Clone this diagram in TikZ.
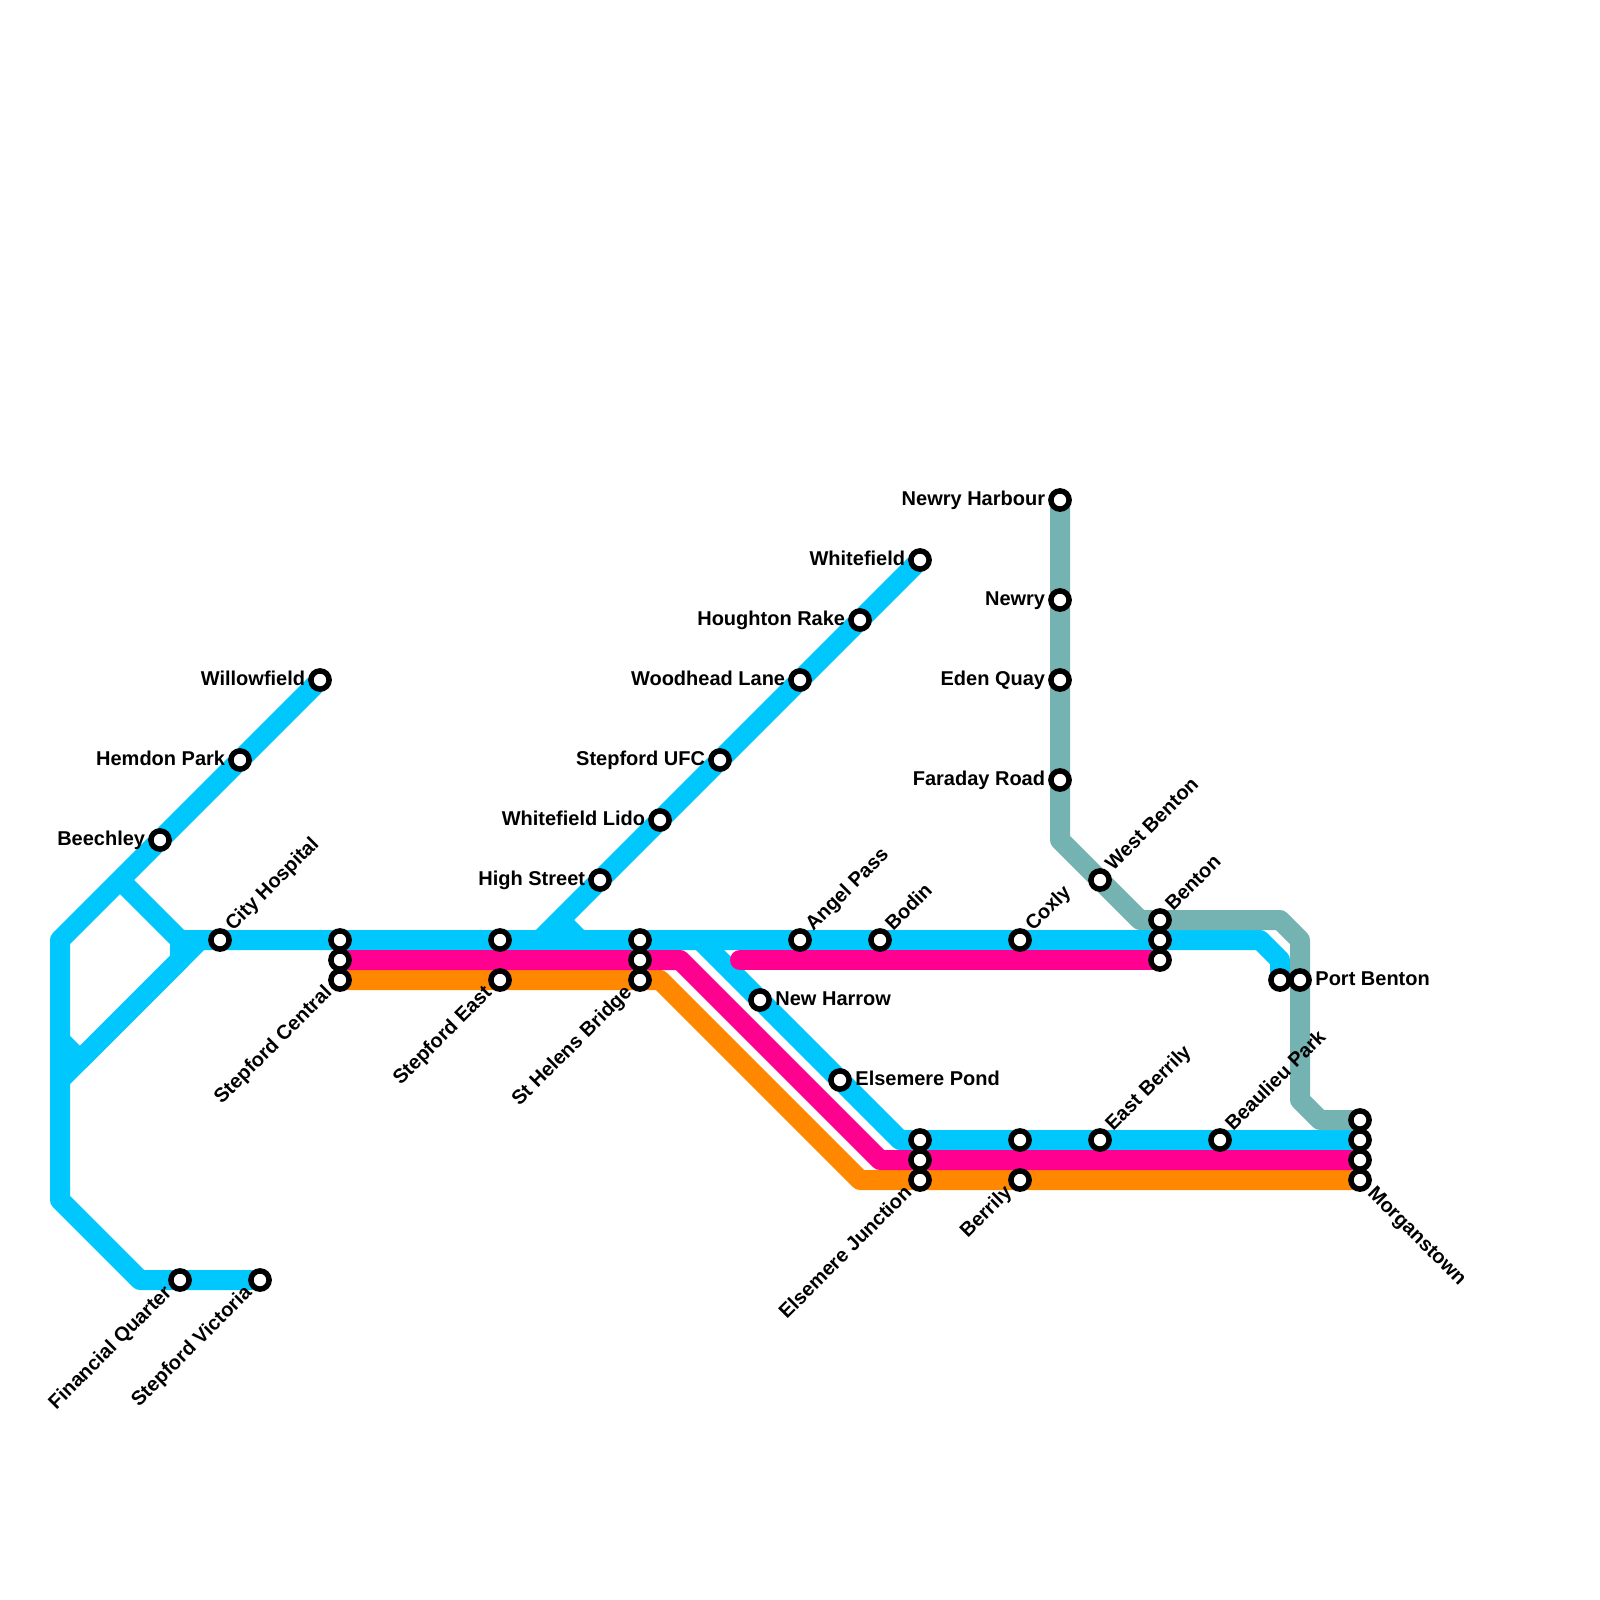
\documentclass[tikz,border=0pt]{standalone}
\usepackage{fontspec}
\setmainfont{Liberation Sans}
\pgfdeclarelayer{lines}
\pgfsetlayers{lines,main}
\definecolor{lblue}{HTML}{00C8FF}
\definecolor{lpink}{HTML}{FF0090}
\definecolor{lorange}{HTML}{FF8800}
\definecolor{lteal}{HTML}{75B2B2}
\tikzset{
  stn/.style={circle,draw=black,fill=white,line width=2.75pt,minimum size=9.1pt,inner sep=0pt},
  txt/.style={inner sep=0pt,font=\fontsize{10}{12}\selectfont\bfseries,text=black},
  lblE/.style={txt,shift={(15,5.5)},anchor=base west},
  lblW/.style={txt,shift={(-14.5,5.5)},anchor=base east},
  lblNE/.style={txt,shift={(13,-8)},rotate=45,anchor=base west},
  lblSW/.style={txt,shift={(-7,13.5)},rotate=45,anchor=base east},
  lblSE/.style={txt,shift={(6.5,14)},rotate=-45,anchor=base west},
  route/.style={line width=10pt,line join=round,line cap=butt},
  bluel/.style={route,draw=lblue},
  pinkl/.style={route,draw=lpink},
  orangel/.style={route,draw=lorange},
  teall/.style={route,draw=lteal},
}
\newcommand{\stat}[4]{\node[stn] (#1) at (#2,#3) {};}
\begin{document}
\begin{tikzpicture}[x=0.5pt,y=-0.5pt]
\useasboundingbox (0,0) rectangle (1600,1600);
% stations
\stat{wf}{320}{680}{}
\stat{hp}{240}{760}{}
\stat{bc}{160}{840}{}
\stat{ch}{220}{940}{}
\stat{fq}{180}{1280}{}
\stat{sv}{260}{1280}{}
\stat{sca}{340}{940}{}
\stat{scb}{340}{960}{}
\stat{scc}{340}{980}{}
\stat{sea}{500}{940}{}
\stat{seb}{500}{980}{}
\stat{hba}{640}{940}{}
\stat{hbb}{640}{960}{}
\stat{hbc}{640}{980}{}
\stat{hs}{600}{880}{}
\stat{wl}{660}{820}{}
\stat{uf}{720}{760}{}
\stat{wh}{800}{680}{}
\stat{hr}{860}{620}{}
\stat{wt}{920}{560}{}
\stat{ap}{800}{940}{}
\stat{bo}{880}{940}{}
\stat{co}{1020}{940}{}
\stat{nh}{760}{1000}{}
\stat{ep}{840}{1080}{}
\stat{eja}{920}{1140}{}
\stat{ejb}{920}{1160}{}
\stat{ejc}{920}{1180}{}
\stat{bea}{1020}{1140}{}
\stat{beb}{1020}{1180}{}
\stat{eb}{1100}{1140}{}
\stat{bp}{1220}{1140}{}
\stat{moa}{1360}{1120}{}
\stat{mob}{1360}{1140}{}
\stat{moc}{1360}{1160}{}
\stat{mod}{1360}{1180}{}
\stat{nwh}{1060}{500}{}
\stat{nw}{1060}{600}{}
\stat{eq}{1060}{680}{}
\stat{fr}{1060}{780}{}
\stat{wb}{1100}{880}{}
\stat{bna}{1160}{920}{}
\stat{bnb}{1160}{940}{}
\stat{bnc}{1160}{960}{}
\stat{pba}{1280}{980}{}
\stat{pbb}{1300}{980}{}
% labels
\node[lblW] (twf) at (wf.center) {Willowfield};
\node[lblW] (thp) at (hp.center) {Hemdon Park};
\node[lblW] (tbc) at (bc.center) {Beechley};
\node[lblNE] (tch) at (ch.center) {City Hospital};
\node[lblSW] (tfq) at (fq.center) {Financial Quarter};
\node[lblSW] (tsv) at (sv.center) {Stepford Victoria};
\node[lblSW] (tsc) at (scc.center) {Stepford Central};
\node[lblSW] (tse) at (seb.center) {Stepford East};
\node[lblSW] (thb) at (hbc.center) {St Helens Bridge};
\node[lblW] (ths) at (hs.center) {High Street};
\node[lblW] (twl) at (wl.center) {Whitefield Lido};
\node[lblW] (tuf) at (uf.center) {Stepford UFC};
\node[lblW] (twh) at (wh.center) {Woodhead Lane};
\node[lblW] (thr) at (hr.center) {Houghton Rake};
\node[lblW] (twt) at (wt.center) {Whitefield};
\node[lblNE] (tap) at (ap.center) {Angel Pass};
\node[lblNE] (tbo) at (bo.center) {Bodin};
\node[lblNE] (tco) at (co.center) {Coxly};
\node[lblE] (tnh) at (nh.center) {New Harrow};
\node[lblE] (tep) at (ep.center) {Elsemere Pond};
\node[lblSW] (tej) at (ejc.center) {Elsemere Junction};
\node[lblSW] (tbe) at (beb.center) {Berrily};
\node[lblNE] (teb) at (eb.center) {East Berrily};
\node[lblNE] (tbp) at (bp.center) {Beaulieu Park};
\node[lblSE] (tmo) at (mod.center) {Morganstown};
\node[lblW] (tnwh) at (nwh.center) {Newry Harbour};
\node[lblW] (tnw) at (nw.center) {Newry};
\node[lblW] (teq) at (eq.center) {Eden Quay};
\node[lblW] (tfr) at (fr.center) {Faraday Road};
\node[lblNE] (twb) at (wb.center) {West Benton};
\node[lblNE] (tbn) at (bna.center) {Benton};
\node[lblE] (tpb) at (pbb.center) {Port Benton};
% bends
\coordinate (b1) at (60,940);
\coordinate (b2) at (60,1200);
\coordinate (b3) at (140,1280);
\coordinate (b4) at (120,880);
\coordinate (b5) at (180,940);
\coordinate (b6) at (180,960);
\coordinate (b7) at (80,1060);
\coordinate (b8) at (60,1040);
\coordinate (b9) at (60,1080);
\coordinate (b10) at (200,940);
\coordinate (b11) at (540,940);
\coordinate (b12) at (560,920);
\coordinate (b13) at (580,940);
\coordinate (b14) at (700,940);
\coordinate (b15) at (900,1140);
\coordinate (b16) at (1260,940);
\coordinate (b17) at (1280,960);
\coordinate (p1) at (680,960);
\coordinate (p2) at (880,1160);
\coordinate (p3) at (740,960);
\coordinate (o1) at (660,980);
\coordinate (o2) at (860,1180);
\coordinate (t1) at (1060,840);
\coordinate (t2) at (1140,920);
\coordinate (t3) at (1280,920);
\coordinate (t4) at (1300,940);
\coordinate (t5) at (1300,1100);
\coordinate (t6) at (1320,1120);
\begin{pgfonlayer}{lines}
\draw[bluel] (wf.center) -- (b4) -- (b1) -- (b2) -- (b3) -- (sv.center);
\draw[bluel] (b4) -- (b5) -- (b6) -- (b7) -- (b8);
\draw[bluel] (b9) -- (b10);
\draw[bluel] (b5) -- (b16) -- (b17) -- (pba.center);
\draw[bluel] (b11) -- (wt.center);
\draw[bluel] (b12) -- (b13);
\draw[bluel] (b14) -- (b15) -- (mob.center);
\draw[orangel] (scc.center) -- (o1) -- (o2) -- (mod.center);
\draw[pinkl] (scb.center) -- (p1) -- (p2) -- (moc.center);
\draw[pinkl,line cap=round] (p3) -- (bnc.center);
\draw[teall] (nwh.center) -- (t1) -- (t2) -- (t3) -- (t4) -- (t5) -- (t6) -- (moa.center);
\end{pgfonlayer}
\end{tikzpicture}
\end{document}
